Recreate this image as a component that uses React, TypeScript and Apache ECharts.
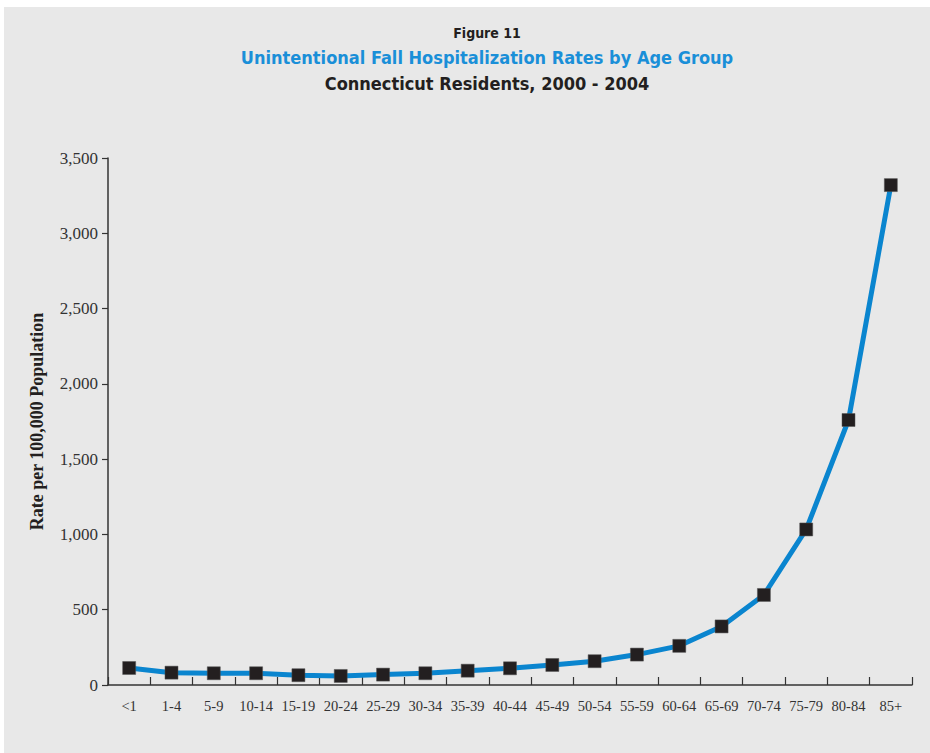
import React, { useEffect, useRef } from "react";
import * as echarts from "echarts";

const categories = ["<1", "1-4", "5-9", "10-14", "15-19", "20-24", "25-29", "30-34", "35-39", "40-44", "45-49", "50-54", "55-59", "60-64", "65-69", "70-74", "75-79", "80-84", "85+"];
const rates = [113, 82, 78, 78, 65, 60, 69, 78, 95, 111, 133, 158, 202, 260, 389, 598, 1033, 1760, 3320];
const yTicks = [0, 500, 1000, 1500, 2000, 2500, 3000, 3500];

const figureLabel = "Figure 11";
const titleText = "Unintentional Fall Hospitalization Rates by Age Group";
const subtitleText = "Connecticut Residents, 2000 - 2004";
const yAxisName = "Rate per 100,000 Population";

export default function App() {
  const ref = useRef<HTMLDivElement>(null);
  useEffect(() => {
    if (!ref.current) return;
    const chart = echarts.init(ref.current, null, { renderer: "svg" });
    const titleFont = "'DejaVu Sans Condensed', 'DejaVu Sans', sans-serif";
    chart.setOption({
      animation: false,
      backgroundColor: "#ffffff",
      graphic: [
        { type: "rect", z: -10, shape: { x: 4, y: 7, width: 930, height: 760 }, style: { fill: "#e8e8e8" } },
        { type: "text", x: 487, y: 33, style: { text: figureLabel, font: `bold 14px ${titleFont}`, fill: "#231f20", align: "center", verticalAlign: "middle" } },
        { type: "text", x: 487, y: 57, style: { text: titleText, font: `bold 18px ${titleFont}`, fill: "#1a8fd8", align: "center", verticalAlign: "middle" } },
        { type: "text", x: 487, y: 83, style: { text: subtitleText, font: `bold 18px ${titleFont}`, fill: "#231f20", align: "center", verticalAlign: "middle" } },
      ],
      grid: { left: 108, right: 18, top: 158, bottom: 68, containLabel: false },
      xAxis: {
        type: "category",
        data: categories,
        boundaryGap: true,
        axisLine: { lineStyle: { color: "#333333", width: 1.5 } },
        axisTick: { show: true, inside: true, length: 8, alignWithLabel: false, lineStyle: { color: "#333333", width: 1.2 } },
        axisLabel: { color: "#333333", fontFamily: "'Liberation Serif', serif", fontSize: 14.5, margin: 13, interval: 0 },
      },
      yAxis: {
        type: "value",
        min: 0,
        max: 3500,
        interval: 500,
        name: yAxisName,
        nameLocation: "middle",
        nameGap: 62,
        nameTextStyle: { color: "#231f20", fontFamily: "'Liberation Serif', serif", fontWeight: "bold", fontSize: 18 },
        axisLine: { show: true, lineStyle: { color: "#333333", width: 1.5 } },
        axisTick: { show: true, inside: false, length: 6, lineStyle: { color: "#333333", width: 1.2 } },
        splitLine: { show: false },
        axisLabel: {
          color: "#333333",
          fontFamily: "'Liberation Serif', serif",
          fontSize: 17,
          margin: 10,
          formatter: (v: number) => (yTicks.includes(v) ? v.toLocaleString("en-US") : ""),
        },
      },
      series: [
        {
          type: "line",
          data: rates,
          smooth: false,
          lineStyle: { color: "#0a85cf", width: 5 },
          symbol: "rect",
          symbolSize: 13,
          itemStyle: { color: "#231f20", borderColor: "#555", borderWidth: 0.5 },
        },
      ],
    });
    return () => chart.dispose();
  }, []);
  return <div ref={ref} style={{ position: "fixed", left: 0, top: 0, width: 930, height: 753 }} />;
}
